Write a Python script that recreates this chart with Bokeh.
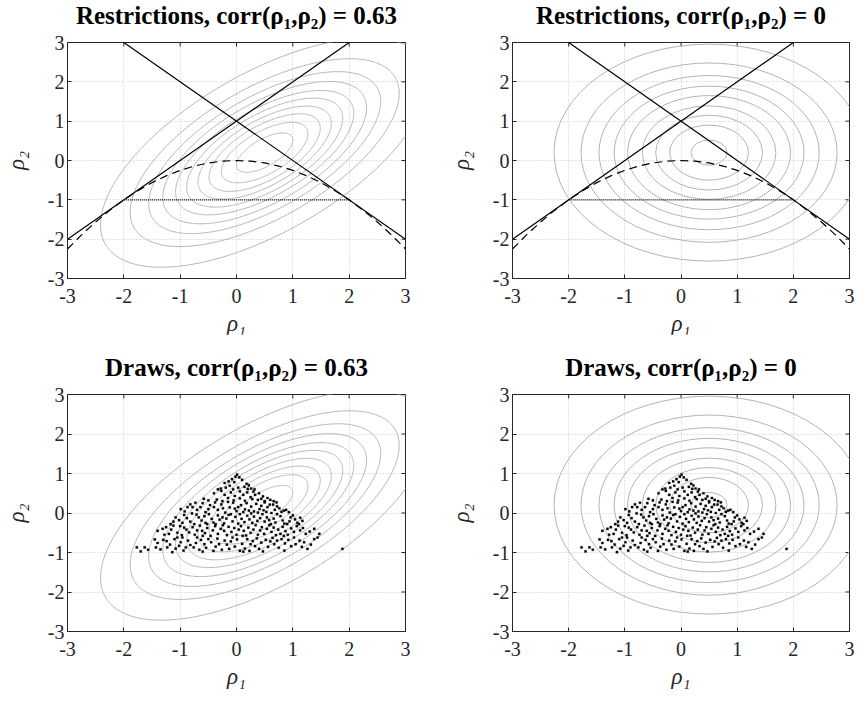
import numpy as np
from bokeh.plotting import figure
from bokeh.layouts import column, row
from bokeh.models import Range1d, FixedTicker
from bokeh.embed import file_html
from bokeh.resources import INLINE

# ---------------- data ----------------
ticks = [-3, -2, -1, 0, 1, 2, 3]
tick_labels = ["-3", "-2", "-1", "0", "1", "2", "3"]

titles = ["Restrictions, corr(ρ₁,ρ₂) = 0.63", "Restrictions, corr(ρ₁,ρ₂) = 0",
          "Draws, corr(ρ₁,ρ₂) = 0.63", "Draws, corr(ρ₁,ρ₂) = 0"]

# restriction boundaries
line_a_x = [-3, 2]
line_a_y = [-2, 3]
line_b_x = [-2, 3]
line_b_y = [3, -2]
floor_x = [-2, 2]
floor_y = [-1, -1]
par_x = [-3, -2.75, -2.5, -2.25, -2, -1.75, -1.5, -1.25, -1, -0.75, -0.5, -0.25, 0,
         0.25, 0.5, 0.75, 1, 1.25, 1.5, 1.75, 2, 2.25, 2.5, 2.75, 3]
par_y = [-2.25, -1.891, -1.5625, -1.266, -1.0, -0.766, -0.5625, -0.391, -0.25, -0.141, -0.0625, -0.016, 0,
         -0.016, -0.0625, -0.141, -0.25, -0.391, -0.5625, -0.766, -1.0, -1.266, -1.5625, -1.891, -2.25]

# prior density contours (ellipses)
contour_cx = 0.5
contour_cy = 0.2
circle_radii = [0.32, 0.70, 0.95, 1.19, 1.45, 1.69, 1.96, 2.28, 2.76]
corr_major = [0.64, 0.98, 1.26, 1.51, 1.77, 2.02, 2.31, 2.63, 3.05, 3.72]
corr_minor = [0.30, 0.47, 0.60, 0.72, 0.84, 0.96, 1.10, 1.25, 1.45, 1.77]
corr_angle_deg = 45

# draws (rho1, rho2)
draw_x = [
 0.01, -0.02, -0.08, 0.05, -0.14, -0.21, -0.04, 0.10, 0.18, 0.22, -0.12, -0.19, -0.28, 0.14, 0.26, 0.03, -0.06, 0.20, 0.32, -0.33,
 -0.27, -0.10, 0.06, 0.19, 0.30, 0.40, -0.40, -0.21, -0.03, 0.12, 0.33, 0.47, 0.55, -0.15, 0.06, 0.25, 0.38, 0.60, -0.50, -0.58,
 -0.35, -0.05, 0.15, 0.50, 0.66, -0.25, 0.44, 0.28,
 -0.99, -0.87, -0.78, -0.64, -0.40, 0.03, 0.55, 0.84, 0.22, -0.92, -0.82, -0.70, -0.60, -0.55, -0.47, -0.33, -0.27, -0.20, -0.12, -0.06,
 0.00, 0.08, 0.12, 0.18, 0.26, 0.31, 0.35, 0.41, 0.44, 0.50, 0.53, 0.59, 0.65, 0.68, 0.71, 0.76, 0.80, 0.88, 0.93, 0.62,
 0.38, -0.15, -0.38, -0.73, -0.50, 0.15, 0.48, -0.24, -0.03, 0.72,
 -1.08, -1.17, -1.12, -0.93, -0.75, -0.67, -0.52, -0.49, -0.37, -0.25, -0.10, 0.37, 0.61, 0.72, 0.90, 0.96, 1.11, 1.17,
 -1.02, -0.96, -0.88, -0.82, -0.71, -0.62, -0.57, -0.44, -0.41, -0.33, -0.30, -0.22, -0.18, -0.14, -0.07, -0.02, 0.03, 0.06, 0.09, 0.14,
 0.19, 0.23, 0.28, 0.31, 0.42, 0.46, 0.50, 0.54, 0.58, 0.66, 0.69, 0.78, 0.82, 0.85, 0.94, 1.00, 1.04, 1.08, 1.13, 0.26, -0.55, -0.79,
 -1.31, -1.20, -1.12, -0.93, -0.84, -0.61, -0.46, -0.22, 0.13, 0.49, 0.78, 1.23, 1.47,
 -1.40, -1.28, -1.25, -1.16, -1.05, -1.00, -0.97, -0.89, -0.78, -0.74, -0.70, -0.65, -0.56, -0.52, -0.42, -0.38, -0.33, -0.28, -0.17, -0.14,
 -0.09, -0.04, 0.00, 0.04, 0.08, 0.17, 0.21, 0.25, 0.30, 0.34, 0.38, 0.42, 0.45, 0.54, 0.58, 0.62, 0.66, 0.70, 0.74, 0.82,
 0.87, 0.91, 0.97, 1.02, 1.07, 1.13, 1.18, 1.30, 1.38, -0.60, 0.11, -0.24, 0.84,
 -1.77, -1.70, -1.63, -1.57, -1.45, -1.40, -1.43, -1.24, -1.23, -1.14, -1.05, -1.02, -0.96, -0.90, -0.76, -0.70, -0.57, -0.41, -0.31, -0.13,
 -0.07, 0.06, 0.25, 0.40, 0.67, 1.02, 1.05, 1.20, 1.26, 1.38, 1.44, 1.88,
 -1.35, -1.30, -1.18, -1.10, -1.08, -0.99, -0.94, -0.86, -0.82, -0.72, -0.66, -0.63, -0.54, -0.50, -0.45, -0.37, -0.34, -0.26, -0.21, -0.17,
 -0.10, -0.03, 0.01, 0.10, 0.15, 0.19, 0.23, 0.29, 0.33, 0.36, 0.44, 0.47, 0.52, 0.56, 0.60, 0.64, 0.72, 0.75, 0.80, 0.86,
 0.92, 0.97, 1.12, 1.16, 1.32, 0.12, -0.60, 0.85]
draw_y = [
 0.97, 0.92, 0.86, 0.90, 0.80, 0.76, 0.78, 0.84, 0.74, 0.70, 0.69, 0.64, 0.62, 0.66, 0.62, 0.64, 0.60, 0.61, 0.60, 0.60,
 0.56, 0.52, 0.55, 0.52, 0.54, 0.50, 0.50, 0.46, 0.43, 0.46, 0.46, 0.42, 0.38, 0.38, 0.37, 0.40, 0.33, 0.33, 0.32, 0.36,
 0.34, 0.32, 0.31, 0.30, 0.30, 0.30, 0.36, 0.35,
 0.10, 0.15, 0.15, 0.15, 0.15, 0.15, 0.15, 0.06, 0.06, 0.04, 0.22, 0.08, 0.25, 0.02, 0.20, 0.08, 0.22, 0.01, 0.14, 0.26,
 0.05, 0.20, 0.02, 0.25, 0.16, 0.04, 0.23, 0.10, 0.18, 0.27, 0.03, 0.21, 0.21, 0.08, 0.27, 0.12, 0.03, 0.08, 0.02, 0.00,
 0.01, 0.28, 0.27, 0.26, 0.10, 0.09, 0.07, 0.12, 0.11, 0.17,
 -0.11, -0.28, -0.22, -0.05, -0.28, -0.11, -0.28, -0.03, -0.28, -0.11, -0.03, -0.20, -0.28, -0.03, -0.28, -0.11, -0.28, -0.20,
 -0.18, -0.25, -0.13, -0.22, -0.04, -0.19, -0.08, -0.15, -0.24, -0.06, -0.17, -0.26, -0.14, -0.05, -0.21, -0.10, -0.27, -0.03, -0.15, -0.23,
 -0.07, -0.16, -0.25, -0.09, -0.13, -0.03, -0.22, -0.11, -0.18, -0.14, -0.24, -0.08, -0.19, -0.27, -0.21, -0.06, -0.16, -0.25, -0.12, -0.01, -0.25, -0.01,
 -0.40, -0.53, -0.32, -0.37, -0.49, -0.45, -0.58, -0.45, -0.45, -0.53, -0.53, -0.53, -0.53,
 -0.45, -0.55, -0.36, -0.42, -0.50, -0.33, -0.56, -0.42, -0.36, -0.55, -0.44, -0.32, -0.51, -0.38, -0.44, -0.33, -0.53, -0.40, -0.56, -0.35,
 -0.48, -0.38, -0.55, -0.42, -0.33, -0.57, -0.37, -0.50, -0.42, -0.31, -0.55, -0.44, -0.36, -0.40, -0.31, -0.48, -0.37, -0.56, -0.42, -0.35,
 -0.46, -0.55, -0.39, -0.48, -0.33, -0.44, -0.38, -0.47, -0.40, -0.58, -0.58, -0.31, -0.58,
 -0.87, -0.97, -0.87, -0.93, -0.67, -0.76, -0.87, -0.71, -0.87, -0.99, -0.62, -0.83, -0.62, -0.87, -0.87, -0.62, -0.79, -0.96, -0.79, -0.91,
 -0.62, -0.96, -0.79, -0.91, -0.79, -0.62, -0.79, -0.74, -0.91, -0.66, -0.62, -0.91,
 -0.92, -0.68, -0.80, -0.66, -0.90, -0.74, -0.95, -0.70, -0.81, -0.76, -0.93, -0.68, -0.88, -0.66, -0.74, -0.85, -0.65, -0.93, -0.70, -0.80,
 -0.72, -0.85, -0.67, -0.78, -0.90, -0.66, -0.96, -0.71, -0.84, -0.64, -0.75, -0.97, -0.68, -0.86, -0.72, -0.63, -0.70, -0.88, -0.66, -0.77,
 -0.68, -0.84, -0.70, -0.86, -0.80, -0.98, -0.98, -0.95]

# ---------------- styling ----------------
FONT = "Liberation Serif"
AX_COLOR = "#262626"
CONTOUR_COLOR = "#b4b4b4"
SHIFT = 16  # figures are pulled up by this many pixels so titles sit higher


def ellipse_outline(cx, cy, a, b, angle_deg):
    t = np.linspace(0, 2 * np.pi, 400)
    th = np.deg2rad(angle_deg)
    xs = cx + a * np.cos(t) * np.cos(th) - b * np.sin(t) * np.sin(th)
    ys = cy + a * np.cos(t) * np.sin(th) + b * np.sin(t) * np.cos(th)
    return list(xs), list(ys)


def make_panel(title, width, height, bl, br, bt, bb):
    p = figure(width=width, height=height, output_backend="svg", toolbar_location=None,
               x_range=Range1d(-3, 3), y_range=Range1d(-3, 3),
               min_border_left=bl, min_border_right=br, min_border_top=bt, min_border_bottom=bb,
               background_fill_color="white", border_fill_color="white",
               margin=(-SHIFT, 0, 0, 0))
    p.title.text = title
    p.title.text_font = FONT
    p.title.text_font_size = "25px"
    p.title.text_font_style = "bold"
    p.title.text_color = "black"
    p.title.align = "center"
    p.title.standoff = 27
    p.outline_line_color = AX_COLOR
    p.outline_line_width = 1
    labels = {t: l for t, l in zip(ticks, tick_labels)}
    for ax in (p.xaxis[0], p.yaxis[0]):
        ax.ticker = FixedTicker(ticks=ticks)
        ax.major_label_overrides = labels
        ax.major_label_text_font = FONT
        ax.major_label_text_font_size = "20px"
        ax.major_label_text_color = AX_COLOR
        ax.axis_line_color = AX_COLOR
        ax.major_tick_line_color = AX_COLOR
        ax.major_tick_in = 4
        ax.major_tick_out = 0
        ax.minor_tick_line_color = None
        ax.axis_label_text_font = FONT
        ax.axis_label_text_font_size = "23px"
        ax.axis_label_text_font_style = "italic"
        ax.axis_label_text_color = AX_COLOR
    p.xaxis.axis_label = "ρ₁"
    p.yaxis.axis_label = "ρ₂"
    p.xaxis.major_label_standoff = 10
    p.yaxis.major_label_standoff = 3
    p.xaxis.axis_label_standoff = 5
    p.yaxis.axis_label_standoff = 16
    # inward ticks on the top and right frame edges (clipped half-dashes)
    n = len(ticks)
    p.scatter(ticks, [3] * n, marker="dash", size=8, angle=np.pi / 2,
              line_color=AX_COLOR, line_width=1)
    p.scatter([3] * n, ticks, marker="dash", size=8, angle=0,
              line_color=AX_COLOR, line_width=1)
    for g in (p.xgrid[0], p.ygrid[0]):
        g.ticker = FixedTicker(ticks=ticks)
        g.grid_line_color = "#c8c8c8"
        g.grid_line_dash = "1 2"
        g.grid_line_width = 1
    return p


def add_contours(p, correlated):
    if correlated:
        xs, ys = [], []
        for a, b in zip(corr_major, corr_minor):
            ex, ey = ellipse_outline(contour_cx, contour_cy, a, b, corr_angle_deg)
            xs.append(ex)
            ys.append(ey)
        p.multi_line(xs, ys, line_color=CONTOUR_COLOR, line_width=1)
    else:
        n = len(circle_radii)
        p.ellipse(x=[contour_cx] * n, y=[contour_cy] * n,
                  width=[2 * r for r in circle_radii], height=[2 * r for r in circle_radii],
                  fill_color=None, line_color=CONTOUR_COLOR, line_width=1)


def add_restrictions(p):
    p.line(line_a_x, line_a_y, line_color="black", line_width=1.2)
    p.line(line_b_x, line_b_y, line_color="black", line_width=1.2)
    p.line(floor_x, floor_y, line_color="black", line_width=1.2, line_dash="1 1")
    p.line(par_x, par_y, line_color="black", line_width=1.2, line_dash="8 5")


def add_draws(p):
    p.scatter(draw_x, draw_y, marker="square", size=2.2, fill_color="black",
              line_color="black", line_width=0.3)


p1 = make_panel(titles[0], 428, 366, 67, 23, 58, 72)
add_contours(p1, True)
add_restrictions(p1)

p2 = make_panel(titles[1], 429, 366, 84, 8, 58, 72)
add_contours(p2, False)
add_restrictions(p2)

p3 = make_panel(titles[2], 428, 370, 67, 23, 60, 73)
add_contours(p3, True)
add_draws(p3)

p4 = make_panel(titles[3], 429, 370, 84, 8, 60, 73)
add_contours(p4, False)
add_draws(p4)

layout = column(row(p1, p2), row(p3, p4))
open("out.html", "w").write(file_html(layout, INLINE))
